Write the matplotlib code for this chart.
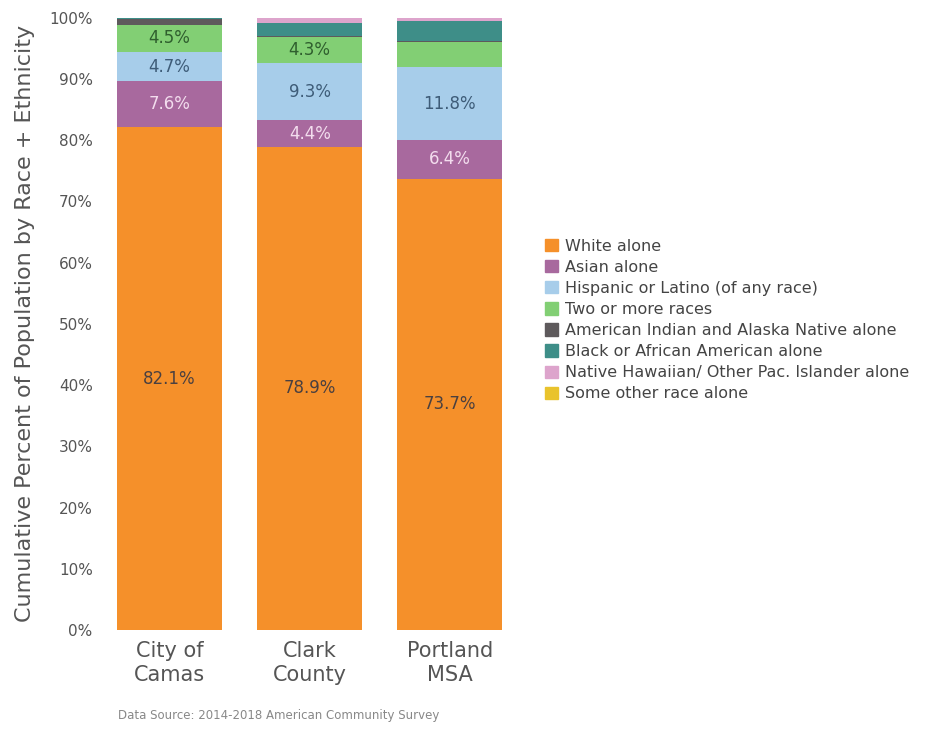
import numpy as np
import matplotlib.pyplot as plt
from matplotlib.patches import Patch

plt.rcParams['font.family'] = ['DejaVu Sans']

places = ['City of\nCamas', 'Clark\nCounty', 'Portland\nMSA']
groups = ['White alone', 'Asian alone', 'Hispanic or Latino (of any race)',
          'Two or more races', 'American Indian and Alaska Native alone',
          'Black or African American alone',
          'Native Hawaiian/ Other Pac. Islander alone', 'Some other race alone']
white = [82.1, 78.9, 73.7]
asian = [7.6, 4.4, 6.4]
hispanic = [4.7, 9.3, 11.8]
two_more = [4.5, 4.3, 4.2]
am_indian = [0.9, 0.2, 0.1]
black = [0.1, 2.0, 3.3]
nh_pi = [0.05, 0.8, 0.45]
other = [0.05, 0.1, 0.05]
# which segments get a label (first four series only)
shown = [[True, True, True, True], [True, True, True, True], [True, True, True, False]]

series = [white, asian, hispanic, two_more, am_indian, black, nh_pi, other]
colors = ['#F5902A', '#A8699E', '#A7CDEA', '#82CF74', '#5E5A5C', '#3E8E88', '#DDA4CC', '#E9C32C']
txt_colors = ['#4A4040', '#F3DDEE', '#3E5C78', '#2F5F2E']

fig = plt.figure(figsize=(9.4, 7.34), dpi=100)
ax = fig.add_axes([0.106, 0.1417, 0.447, 0.834])

x = np.arange(len(places))
bottom = np.zeros(len(places))
for i, vals in enumerate(series):
    ax.bar(x, vals, 0.75, bottom=bottom, color=colors[i], label=groups[i])
    if i < 4:
        for j in range(len(places)):
            if shown[j][i]:
                ax.text(x[j], bottom[j] + vals[j] / 2, '%.1f%%' % vals[j],
                        ha='center', va='center', fontsize=12, color=txt_colors[i])
    bottom += np.array(vals)

ax.set_xlim(-0.5, 2.5)
ax.set_ylim(0, 100)
ax.set_yticks(np.arange(0, 101, 10))
ax.set_yticklabels(['%d%%' % v for v in range(0, 101, 10)], fontsize=11, color='#555555')
ax.set_xticks(x)
ax.set_xticklabels(places, fontsize=15, color='#555555', linespacing=1.25)
ax.tick_params(length=0, axis='both')
ax.tick_params(axis='x', pad=8)
ax.tick_params(axis='y', pad=5)
for s in ax.spines.values():
    s.set_visible(False)
ax.set_ylabel('Cumulative Percent of Population by Race + Ethnicity',
              fontsize=16, color='#555555', labelpad=10)

handles = [Patch(color=c) for c in colors]
fig.legend(handles, groups, loc='center left', bbox_to_anchor=(0.565, 0.564),
           frameon=False, fontsize=11.5, handlelength=0.8, handleheight=0.8,
           handletextpad=0.4, labelspacing=0.38, labelcolor='#444444')

fig.text(0.125, 0.02, 'Data Source: 2014-2018 American Community Survey',
         fontsize=8.5, color='#888888')

plt.savefig('out.png', dpi=100)
